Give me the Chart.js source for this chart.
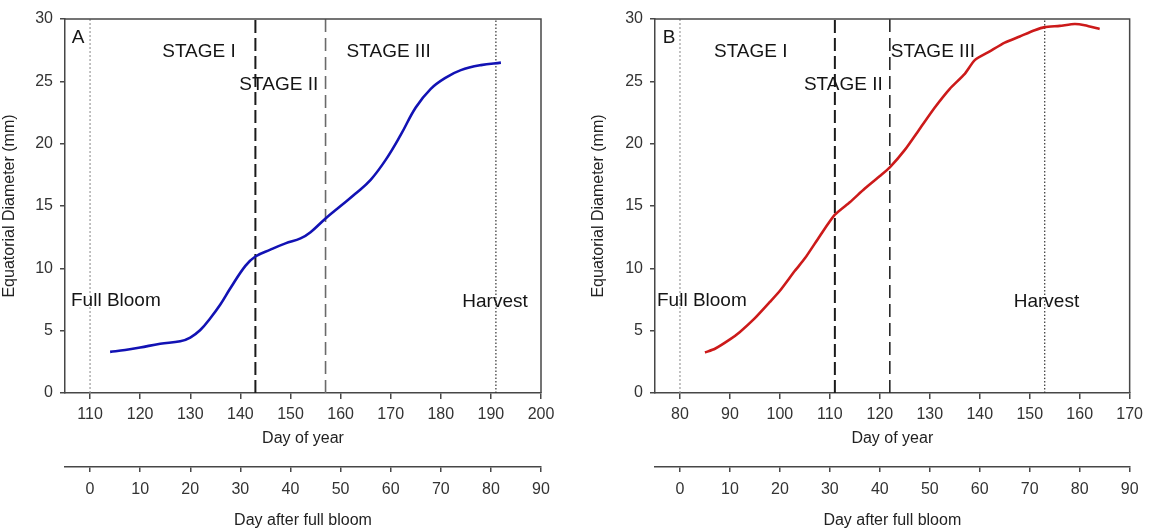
<!DOCTYPE html>
<html>
<head>
<meta charset="utf-8">
<script src="https://cdn.jsdelivr.net/npm/chart.js@4/dist/chart.umd.min.js"></script>
<style>
  html, body { margin: 0; padding: 0; background: #fff; }
  #wrap { position: relative; width: 1149px; height: 530px; overflow: hidden; }
  .panel { position: absolute; top: 0; }
  #chart-a { left: 0; }
  #chart-b { left: 575px; }
</style>
</head>
<body>
<div id="wrap">
  <canvas id="chart-a" class="panel" width="575" height="530"></canvas>
  <canvas id="chart-b" class="panel" width="574" height="530"></canvas>
</div>
<script>
// Panel A: fruit diameter by day of year
const daysA = [114, 117, 120, 124, 128, 130, 132, 134, 136, 138, 141, 143, 146, 149, 152, 154, 157,
               160, 163, 166, 169, 172, 175, 178, 181, 184, 188, 192];
const diamA = [3.3, 3.45, 3.65, 3.95, 4.15, 4.45, 5.05, 6.0, 7.1, 8.4, 10.2, 10.95, 11.5, 12.0, 12.4, 12.9, 14.0,
               15.0, 16.0, 17.1, 18.7, 20.7, 22.9, 24.4, 25.3, 25.9, 26.3, 26.5];
const bloomA = 110;
const stagesA = [143, 157];
const harvestA = 191;
const doyTicksA = [110, 120, 130, 140, 150, 160, 170, 180, 190, 200];

// Panel B
const daysB = [85, 87, 90, 92, 95, 98, 100, 103, 105, 108, 111, 114, 117, 120, 122, 125, 128, 131, 134,
               137, 139, 142, 145, 148, 151, 153, 156, 159, 161, 164];
const diamB = [3.25, 3.55, 4.3, 4.9, 6.0, 7.3, 8.2, 9.8, 10.8, 12.6, 14.3, 15.3, 16.4, 17.4, 18.1, 19.5, 21.2, 22.9, 24.4,
               25.6, 26.7, 27.4, 28.1, 28.6, 29.1, 29.35, 29.45, 29.6, 29.5, 29.2];
const bloomB = 80;
const stagesB = [111, 122];
const harvestB = 153;
const doyTicksB = [80, 90, 100, 110, 120, 130, 140, 150, 160, 170];

const dafbTicks = [0, 10, 20, 30, 40, 50, 60, 70, 80, 90];
const yTicks = [0, 5, 10, 15, 20, 25, 30];

const FONT = '"Liberation Sans", Arial, sans-serif';
const AXIS = '#474747';

function vline(x, color, width, dash) {
  return {
    data: [{x: x, y: 0}, {x: x, y: 30}],
    xAxisID: 'x', yAxisID: 'y',
    borderColor: color, borderWidth: width, borderDash: dash,
    pointRadius: 0, tension: 0, order: 2
  };
}

function makeChart(id, p) {
  // frame on top/right plus the in-plot labels
  const frame = {
    id: 'frame',
    afterDraw(chart) {
      const {ctx, chartArea: a, scales} = chart;
      ctx.save();
      ctx.strokeStyle = AXIS;
      ctx.lineWidth = 1.5;
      ctx.beginPath();
      ctx.moveTo(a.left, a.top);
      ctx.lineTo(a.right, a.top);
      ctx.lineTo(a.right, a.bottom);
      ctx.stroke();
      ctx.fillStyle = '#151515';
      ctx.font = '19px ' + FONT;
      ctx.textBaseline = 'middle';
      p.notes.forEach(n => {
        ctx.textAlign = n.align || 'left';
        ctx.fillText(n.text, scales.x.getPixelForValue(n.x), scales.y.getPixelForValue(n.y));
      });
      ctx.restore();
    }
  };

  const tickFont = {family: FONT, size: 16};
  const min = p.doyTicks[0] - 5;
  const max = p.doyTicks[p.doyTicks.length - 1];

  return new Chart(document.getElementById(id), {
    type: 'line',
    data: {
      datasets: [
        {
          data: p.days.map((d, i) => ({x: d, y: p.diam[i]})),
          xAxisID: 'x', yAxisID: 'y',
          borderColor: p.color, borderWidth: 2.6,
          pointRadius: 0, tension: p.tension,
          cubicInterpolationMode: p.mode, order: 1
        },
        vline(p.bloom, '#9a9a9a', 1.2, [2, 2]),
        vline(p.stages[0], '#1a1a1a', 2, [13, 5]),
        vline(p.stages[1], p.stage2Color, 1.6, [13, 6]),
        vline(p.harvest, '#333', 1.2, [1.5, 2])
      ]
    },
    options: {
      responsive: false,
      animation: false,
      layout: {padding: {top: 19, right: p.padRight, left: 0, bottom: 0}},
      plugins: {legend: {display: false}, tooltip: {enabled: false}},
      scales: {
        x: {
          type: 'linear', position: 'bottom', weight: 0, min: min, max: max,
          afterBuildTicks: s => { s.ticks = p.doyTicks.map(v => ({value: v})); },
          afterFit: s => { s.height = 74; },
          grid: {drawOnChartArea: false, tickLength: 6, color: AXIS, lineWidth: 1.5},
          border: {color: AXIS, width: 1.5},
          ticks: {font: tickFont, color: '#333', padding: 6, maxRotation: 0},
          title: {display: true, text: 'Day of year', font: tickFont, color: '#222',
                  padding: {top: 0, bottom: 19}}
        },
        x2: {
          type: 'linear', position: 'bottom', weight: 1,
          min: min - p.bloom, max: max - p.bloom,
          afterBuildTicks: s => { s.ticks = dafbTicks.map(v => ({value: v})); },
          afterFit: s => { s.height = 63; },
          grid: {drawOnChartArea: false, tickLength: 5, color: AXIS, lineWidth: 1.5},
          border: {color: AXIS, width: 1.5},
          ticks: {font: tickFont, color: '#333', padding: 8, maxRotation: 0},
          title: {display: true, text: 'Day after full bloom', font: tickFont, color: '#222',
                  padding: {top: 0, bottom: 0}}
        },
        y: {
          type: 'linear', position: 'left', min: 0, max: 30,
          afterBuildTicks: s => { s.ticks = yTicks.map(v => ({value: v})); },
          afterFit: s => { s.width = p.yWidth; },
          grid: {drawOnChartArea: false, tickLength: 5, color: AXIS, lineWidth: 1.5},
          border: {color: AXIS, width: 1.5},
          ticks: {font: tickFont, color: '#333', padding: 7},
          title: {display: true, text: 'Equatorial Diameter (mm)', font: tickFont, color: '#222',
                  padding: {top: p.yTitlePad, bottom: 0}}
        }
      }
    },
    plugins: [frame]
  });
}

makeChart('chart-a', {
  days: daysA, diam: diamA, bloom: bloomA, stages: stagesA, harvest: harvestA,
  doyTicks: doyTicksA, color: '#1212b4', tension: 0.4, mode: 'default', stage2Color: '#6a6a6a',
  padRight: 34, yWidth: 65, yTitlePad: 0,
  notes: [
    {text: 'A', x: 107.6, y: 28.5, align: 'center'},
    {text: 'STAGE I', x: 124.4, y: 27.35},
    {text: 'STAGE II', x: 139.8, y: 24.7},
    {text: 'STAGE III', x: 161.2, y: 27.4},
    {text: 'Full Bloom', x: 106.2, y: 7.4},
    {text: 'Harvest', x: 184.3, y: 7.35}
  ]
});

makeChart('chart-b', {
  days: daysB, diam: diamB, bloom: bloomB, stages: stagesB, harvest: harvestB,
  doyTicks: doyTicksB, color: '#cc1a1a', tension: 0.2, mode: 'default', stage2Color: '#2a2a2a',
  padRight: 19, yWidth: 80, yTitlePad: 14,
  notes: [
    {text: 'B', x: 77.8, y: 28.5, align: 'center'},
    {text: 'STAGE I', x: 86.8, y: 27.35},
    {text: 'STAGE II', x: 104.8, y: 24.7},
    {text: 'STAGE III', x: 122.2, y: 27.4},
    {text: 'Full Bloom', x: 75.4, y: 7.4},
    {text: 'Harvest', x: 146.8, y: 7.35}
  ]
});
</script>
</body>
</html>
